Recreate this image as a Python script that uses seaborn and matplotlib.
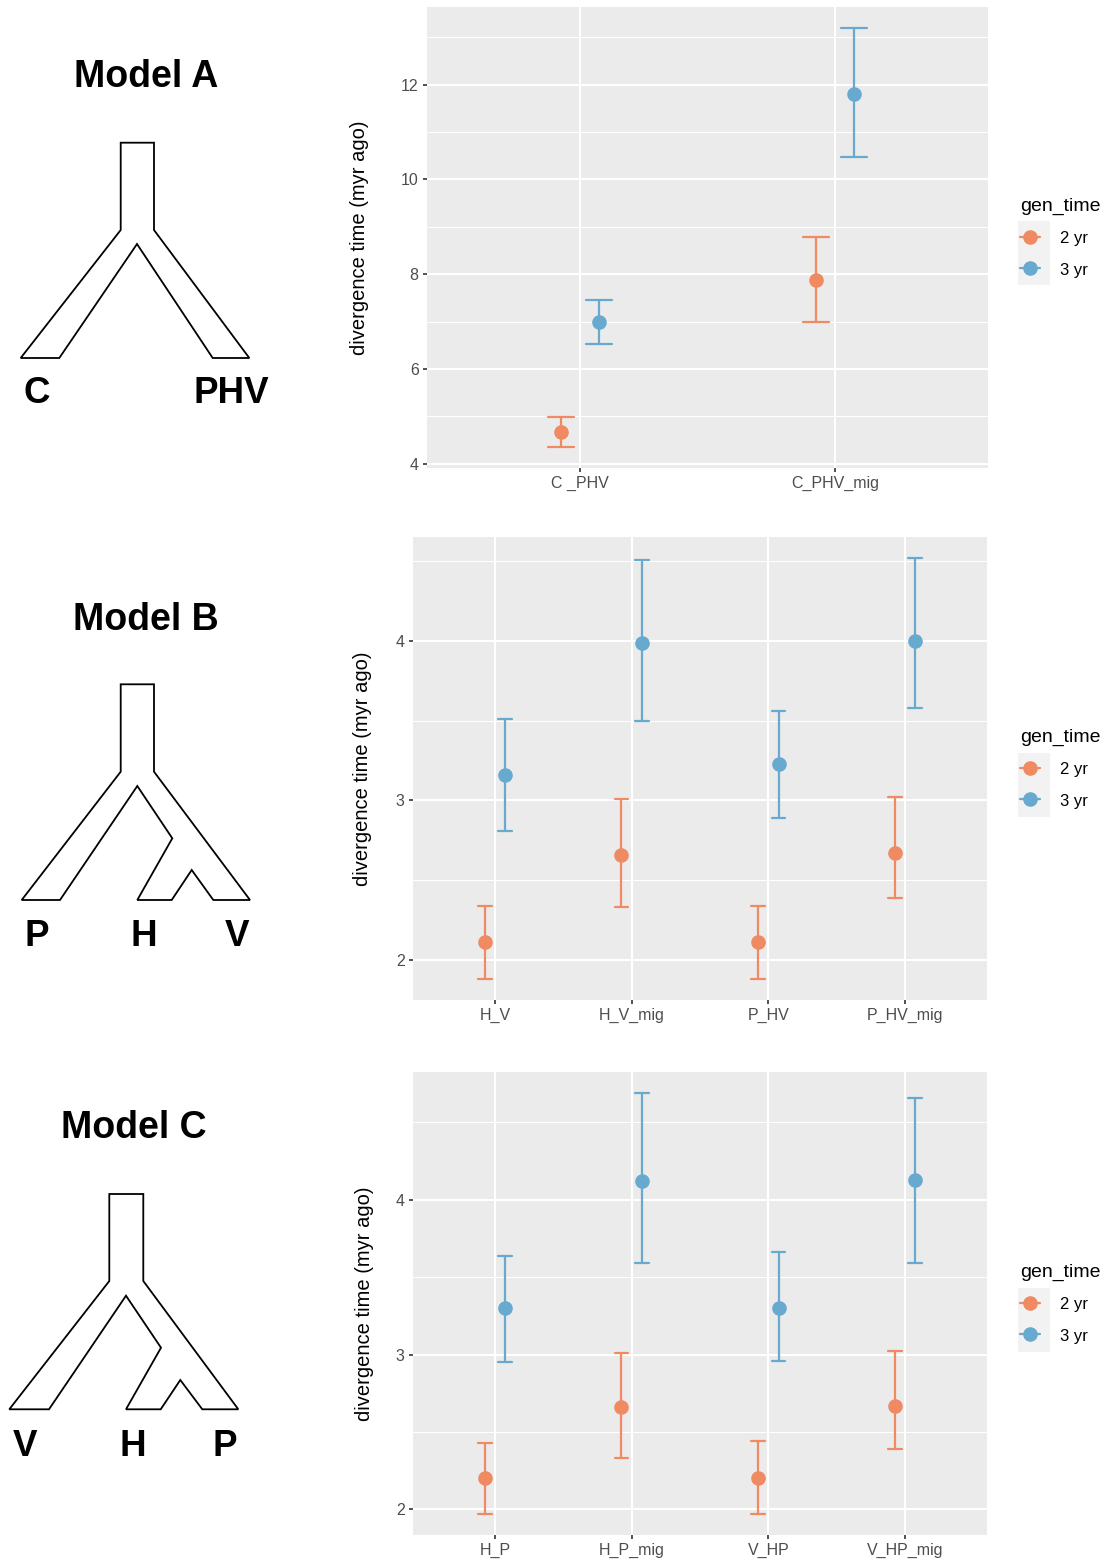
import pandas as pd
import seaborn as sns
import matplotlib.pyplot as plt
from matplotlib.lines import Line2D
from matplotlib.patches import Polygon, Rectangle
from matplotlib.ticker import MultipleLocator

# ---- data ----
gen_levels = ['2 yr', '3 yr']
gen_colors = ['#EF8A62', '#67A9CF']

# Model A
comp_a = ['C _PHV', 'C_PHV_mig']
est_a_2yr = [4.66, 7.87]
low_a_2yr = [4.35, 6.99]
high_a_2yr = [4.98, 8.79]
est_a_3yr = [7.00, 11.81]
low_a_3yr = [6.53, 10.48]
high_a_3yr = [7.46, 13.20]

# Model B
comp_b = ['H_V', 'H_V_mig', 'P_HV', 'P_HV_mig']
est_b_2yr = [2.11, 2.66, 2.11, 2.67]
low_b_2yr = [1.88, 2.33, 1.88, 2.39]
high_b_2yr = [2.34, 3.01, 2.34, 3.02]
est_b_3yr = [3.16, 3.99, 3.23, 4.00]
low_b_3yr = [2.81, 3.50, 2.89, 3.58]
high_b_3yr = [3.51, 4.51, 3.56, 4.52]

# Model C
comp_c = ['H_P', 'H_P_mig', 'V_HP', 'V_HP_mig']
est_c_2yr = [2.20, 2.66, 2.20, 2.67]
low_c_2yr = [1.97, 2.33, 1.97, 2.39]
high_c_2yr = [2.43, 3.01, 2.44, 3.02]
est_c_3yr = [3.30, 4.12, 3.30, 4.13]
low_c_3yr = [2.95, 3.59, 2.96, 3.59]
high_c_3yr = [3.64, 4.69, 3.66, 4.66]


def make_long(comps, est2, lo2, hi2, est3, lo3, hi3):
    # three rows per group (low, estimate, high): median gives the point, min/max the bar
    rows = []
    for gen, est, lo, hi in [('2 yr', est2, lo2, hi2), ('3 yr', est3, lo3, hi3)]:
        for c, e, l, h in zip(comps, est, lo, hi):
            for v in (l, e, h):
                rows.append({'comparison': c, 'gen_time': gen, 'time': v})
    return pd.DataFrame(rows)


df_a = make_long(comp_a, est_a_2yr, low_a_2yr, high_a_2yr, est_a_3yr, low_a_3yr, high_a_3yr)
df_b = make_long(comp_b, est_b_2yr, low_b_2yr, high_b_2yr, est_b_3yr, low_b_3yr, high_b_3yr)
df_c = make_long(comp_c, est_c_2yr, low_c_2yr, high_c_2yr, est_c_3yr, low_c_3yr, high_c_3yr)

sns.set_theme(style='darkgrid')
plt.rcParams['font.family'] = ['Liberation Sans', 'DejaVu Sans']
plt.rcParams['text.color'] = 'black'

W, H = 1107, 1563
fig = plt.figure(figsize=(W / 100, H / 100), dpi=100)
fig.patch.set_facecolor('white')

# full-figure layer in pixel coordinates for the tree drawings and legend key backgrounds
bg = fig.add_axes([0, 0, 1, 1], zorder=-1)
bg.set_xlim(0, W)
bg.set_ylim(H, 0)
bg.axis('off')


def px_axes(left, top, right, bottom):
    return fig.add_axes([left / W, 1 - bottom / H, (right - left) / W, (bottom - top) / H])


def draw_panel(ax, comps, df, major, minor, label_x):
    sns.pointplot(data=df, x='comparison', y='time', hue='gen_time',
                  order=comps, hue_order=gen_levels, palette=gen_colors,
                  estimator='median', errorbar=lambda v: (v.min(), v.max()),
                  dodge=0.15, capsize=0.1, linestyle='none', markers='o',
                  markersize=10.5, markeredgewidth=0,
                  err_kws={'linewidth': 1.6}, legend=False, ax=ax)
    lo, hi = df['time'].min(), df['time'].max()
    pad = 0.05 * (hi - lo)
    ax.set_ylim(lo - pad, hi + pad)
    ax.set_xlim(-0.6, len(comps) - 0.4)
    ax.set_facecolor('#EBEBEB')
    ax.yaxis.set_major_locator(MultipleLocator(major))
    ax.yaxis.set_minor_locator(MultipleLocator(minor))
    ax.grid(True, which='major', axis='both', color='white', linewidth=1.5)
    ax.grid(True, which='minor', axis='y', color='white', linewidth=0.75)
    ax.set_axisbelow(True)
    for s in ax.spines.values():
        s.set_visible(False)
    ax.tick_params(which='major', length=3, width=1.2, color='#333333',
                   labelcolor='#4D4D4D', labelsize=11.5, pad=3,
                   left=True, bottom=True)
    ax.tick_params(which='minor', length=0)
    ax.set_xlabel('')
    ax.set_ylabel('divergence time (myr ago)', fontsize=14.5, color='black')
    ax.yaxis.set_label_coords(label_x, 0.5)

    handles = [Line2D([], [], color=c, marker='o', markersize=10.5, markeredgewidth=0,
                      linewidth=1.6) for c in gen_colors]
    bb = ax.get_position()
    pc = (1 - (bb.y0 + bb.height / 2)) * H
    bg.add_patch(Rectangle((1018, pc - 16), 32, 64, facecolor='#F2F2F2', edgecolor='none'))
    ax.legend(handles, gen_levels, title='gen_time', loc='upper left',
              bbox_to_anchor=(1020 / W, 1 - (pc - 40) / H), bbox_transform=fig.transFigure,
              frameon=False, fontsize=12, title_fontsize=14, alignment='left',
              borderpad=0, borderaxespad=0, handlelength=1.2, handletextpad=1.2,
              handleheight=1.0, labelspacing=0.92)


ax_a = px_axes(427, 7, 988, 468)
ax_b = px_axes(413, 537, 987, 1000)
ax_c = px_axes(413, 1072, 987, 1535)
draw_panel(ax_a, comp_a, df_a, 2, 1, -0.103)
draw_panel(ax_b, comp_b, df_b, 1, 0.5, -0.072)
draw_panel(ax_c, comp_c, df_c, 1, 0.5, -0.068)

# ---- tree diagrams on the left ----
tree_a = [(120.7, 142.7), (154, 142.7), (154, 230), (249.3, 358), (212.7, 358),
          (137, 244), (59.3, 358), (20.7, 358), (120.7, 230)]
tree_b = [(120.7, 684.3), (154, 684.3), (154, 771.7), (250, 900), (213.3, 900),
          (191.7, 870), (171.7, 900), (137.3, 900), (172.3, 838.3), (137.3, 786),
          (60, 900), (21.7, 900), (120.7, 771.7)]
tree_c = [(109.3, 1194), (143.3, 1194), (143.3, 1281), (238.3, 1409.3), (202.3, 1409.3),
          (180.3, 1380), (160.7, 1409.3), (126, 1409.3), (161, 1347.7), (126, 1295.7),
          (49, 1409.3), (9.3, 1409.3), (109.3, 1281)]
for pts in (tree_a, tree_b, tree_c):
    bg.add_patch(Polygon(pts, closed=True, fill=False, edgecolor='black',
                         linewidth=1.3, joinstyle='miter'))

titles = [('Model A', 146, 87), ('Model B', 146, 630), ('Model C', 134, 1138)]
for t, x, y in titles:
    bg.text(x, y, t, fontsize=27, fontweight='bold', ha='center', va='baseline', color='black')

leaves = [('C', 37, 403), ('PHV', 231, 403),
          ('P', 37, 946), ('H', 144, 946), ('V', 237, 946),
          ('V', 25, 1456), ('H', 133, 1456), ('P', 225, 1456)]
for t, x, y in leaves:
    bg.text(x, y, t, fontsize=26.5, fontweight='bold', ha='center', va='baseline', color='black')

fig.savefig('out.png', dpi=100)
